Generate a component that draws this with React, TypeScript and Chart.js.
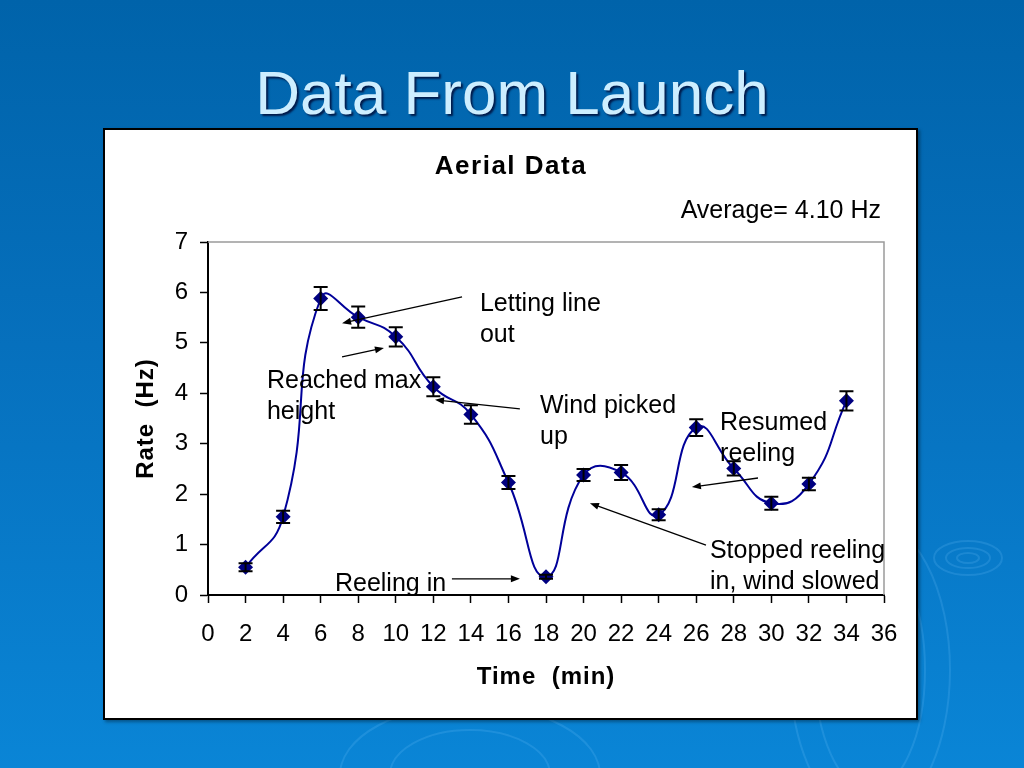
import React, { useEffect, useRef } from "react";
import { Chart, registerables } from "chart.js";

Chart.register(...registerables);

// ---- data ----
const TIME_MIN = [2, 4, 6, 8, 10, 12, 14, 16, 18, 20, 22, 24, 26, 28, 30, 32, 34];
const RATE_HZ = [0.55, 1.55, 5.88, 5.51, 5.12, 4.13, 3.58, 2.23, 0.36, 2.38, 2.43, 1.59, 3.32, 2.51, 1.82, 2.2, 3.85];
const RATE_ERR = [0.08, 0.12, 0.23, 0.21, 0.19, 0.19, 0.185, 0.13, 0.04, 0.12, 0.15, 0.11, 0.165, 0.14, 0.13, 0.125, 0.19];
const X_MIN = 0;
const X_MAX = 36;
const X_STEP = 2;
const Y_MIN = 0;
const Y_MAX = 7;
const Y_STEP = 1;

const SLIDE_TITLE = "Data From Launch";
const CHART_TITLE = "Aerial Data";
const AVERAGE_TEXT = "Average= 4.10 Hz";
const X_TITLE = "Time  (min)";
const Y_TITLE = "Rate  (Hz)";

// annotation texts: [lines, x, y] in data coordinates (left edge, middle of first line)
const NOTE_LINES = [
  ["Letting line", "out"],
  ["Reached max", "height"],
  ["Wind picked", "up"],
  ["Resumed", "reeling"],
  ["Stopped reeling", "in, wind slowed"],
  ["Reeling in"],
];
const NOTE_X = [14.48, 3.14, 17.68, 27.27, 26.73, 6.76];
const NOTE_Y = [5.76, 4.24, 3.75, 3.41, 0.87, 0.22];

// arrows: from (x1,y1) to (x2,y2) with head at (x2,y2), data coordinates
const ARROW_X1 = [13.53, 7.14, 16.61, 29.29, 26.52, 12.99];
const ARROW_Y1 = [5.91, 4.72, 3.69, 2.32, 0.99, 0.32];
const ARROW_X2 = [7.14, 9.37, 12.09, 25.77, 20.34, 16.61];
const ARROW_Y2 = [5.39, 4.9, 3.87, 2.14, 1.82, 0.32];

const FONT = "'Liberation Sans', Arial, Helvetica, sans-serif";

const decorPlugin = {
  id: "decor",
  afterDatasetsDraw(chart: any) {
    const { ctx, chartArea, scales } = chart;
    const xs = scales.x;
    const ys = scales.y;
    ctx.save();
    // top / right frame of plot area
    ctx.strokeStyle = "#9a9a9a";
    ctx.lineWidth = 1.5;
    ctx.beginPath();
    ctx.moveTo(chartArea.left, chartArea.top);
    ctx.lineTo(chartArea.right, chartArea.top);
    ctx.lineTo(chartArea.right, chartArea.bottom);
    ctx.stroke();

    // error bars
    ctx.strokeStyle = "#000000";
    ctx.lineWidth = 2;
    TIME_MIN.forEach((t, i) => {
      const px = xs.getPixelForValue(t);
      const top = ys.getPixelForValue(RATE_HZ[i] + RATE_ERR[i]);
      const bot = ys.getPixelForValue(RATE_HZ[i] - RATE_ERR[i]);
      ctx.beginPath();
      ctx.moveTo(px, top);
      ctx.lineTo(px, bot);
      ctx.moveTo(px - 7, top);
      ctx.lineTo(px + 7, top);
      ctx.moveTo(px - 7, bot);
      ctx.lineTo(px + 7, bot);
      ctx.stroke();
    });

    // arrows
    ctx.strokeStyle = "#000000";
    ctx.fillStyle = "#000000";
    ctx.lineWidth = 1.3;
    ARROW_X1.forEach((_, i) => {
      const x1 = xs.getPixelForValue(ARROW_X1[i]);
      const y1 = ys.getPixelForValue(ARROW_Y1[i]);
      const x2 = xs.getPixelForValue(ARROW_X2[i]);
      const y2 = ys.getPixelForValue(ARROW_Y2[i]);
      const ang = Math.atan2(y2 - y1, x2 - x1);
      const hl = 9;
      const hw = 3.5;
      ctx.beginPath();
      ctx.moveTo(x1, y1);
      ctx.lineTo(x2 - Math.cos(ang) * hl * 0.8, y2 - Math.sin(ang) * hl * 0.8);
      ctx.stroke();
      ctx.beginPath();
      ctx.moveTo(x2, y2);
      ctx.lineTo(x2 - Math.cos(ang) * hl - Math.sin(ang) * hw, y2 - Math.sin(ang) * hl + Math.cos(ang) * hw);
      ctx.lineTo(x2 - Math.cos(ang) * hl + Math.sin(ang) * hw, y2 - Math.sin(ang) * hl - Math.cos(ang) * hw);
      ctx.closePath();
      ctx.fill();
    });

    // annotation texts
    ctx.font = `25px ${FONT}`;
    ctx.textAlign = "left";
    ctx.textBaseline = "middle";
    ctx.fillStyle = "#000000";
    NOTE_LINES.forEach((lines, i) => {
      const x = xs.getPixelForValue(NOTE_X[i]);
      const y = ys.getPixelForValue(NOTE_Y[i]);
      lines.forEach((ln, j) => ctx.fillText(ln, x, y + j * 31));
    });

    // titles
    const cx = (chartArea.left + chartArea.right) / 2;
    const cy = (chartArea.top + chartArea.bottom) / 2;
    (ctx as any).letterSpacing = "1.5px";
    ctx.font = `bold 26px ${FONT}`;
    ctx.textAlign = "center";
    ctx.fillText(CHART_TITLE, cx - 35, chartArea.top - 75);

    (ctx as any).letterSpacing = "1px";
    ctx.font = `bold 24px ${FONT}`;
    ctx.fillText(X_TITLE, cx, chartArea.bottom + 82);

    ctx.save();
    ctx.translate(chartArea.left - 62, cy);
    ctx.rotate(-Math.PI / 2);
    ctx.fillText(Y_TITLE, 0, 0);
    ctx.restore();

    (ctx as any).letterSpacing = "0px";
    ctx.font = `25px ${FONT}`;
    ctx.textAlign = "right";
    ctx.fillText(AVERAGE_TEXT, chartArea.right - 3, chartArea.top - 31);
    ctx.restore();
  },
};

function ChartBox() {
  const ref = useRef<HTMLCanvasElement | null>(null);
  useEffect(() => {
    if (!ref.current) return;
    const chart = new Chart(ref.current, {
      type: "line",
      data: {
        datasets: [
          {
            label: "Rate",
            data: TIME_MIN.map((t, i) => ({ x: t, y: RATE_HZ[i] })),
            borderColor: "#000099",
            borderWidth: 2,
            backgroundColor: "#000080",
            pointStyle: "rectRot",
            pointRadius: 7.5,
            pointBorderWidth: 0,
            pointBackgroundColor: "#000080",
            tension: 0.5,
            fill: false,
          },
        ],
      },
      options: {
        animation: false,
        responsive: false,
        maintainAspectRatio: false,
        devicePixelRatio: 1,
        layout: { padding: { left: 0, top: 112, right: 32, bottom: 0 } },
        plugins: {
          legend: { display: false },
          title: { display: false },
          tooltip: { enabled: false },
        },
        scales: {
          x: {
            type: "linear",
            min: X_MIN,
            max: X_MAX,
            afterFit: (s: any) => {
              s.height = 123;
            },
            afterBuildTicks: (s: any) => {
              const t = [];
              for (let v = X_MIN; v <= X_MAX; v += X_STEP) t.push({ value: v });
              s.ticks = t;
            },
            ticks: {
              color: "#000000",
              font: { family: FONT, size: 24 },
              padding: 17,
              maxRotation: 0,
              autoSkip: false,
            },
            grid: {
              display: true,
              drawOnChartArea: false,
              drawTicks: true,
              tickLength: 8,
              tickColor: "#000000",
              tickWidth: 1.5,
            },
            border: { display: true, color: "#000000", width: 2 },
          },
          y: {
            type: "linear",
            min: Y_MIN,
            max: Y_MAX,
            afterFit: (s: any) => {
              s.width = 103;
            },
            ticks: {
              stepSize: Y_STEP,
              color: "#000000",
              font: { family: FONT, size: 24 },
              padding: 12,
            },
            grid: {
              display: true,
              drawOnChartArea: false,
              drawTicks: true,
              tickLength: 8,
              tickColor: "#000000",
              tickWidth: 1.5,
            },
            border: { display: true, color: "#000000", width: 2 },
          },
        },
      },
      plugins: [decorPlugin],
    });
    return () => chart.destroy();
  }, []);
  return <canvas ref={ref} width={811} height={588} style={{ display: "block", width: 811, height: 588 }} />;
}

export default function App() {
  useEffect(() => {
    document.body.style.margin = "0";
  }, []);
  return (
    <div
      style={{
        position: "relative",
        width: 1024,
        height: 768,
        overflow: "hidden",
        background: "linear-gradient(180deg, #0063aa 0%, #0670bd 45%, #0a85d6 100%)",
        fontFamily: FONT,
      }}
    >
      <svg width={1024} height={768} style={{ position: "absolute", left: 0, top: 0 }}>
        <g fill="none" stroke="rgba(120,200,255,0.18)" strokeWidth={2}>
          <ellipse cx={968} cy={558} rx={34} ry={17} />
          <ellipse cx={968} cy={558} rx={22} ry={10} />
          <ellipse cx={968} cy={558} rx={11} ry={5} />
          <ellipse cx={870} cy={670} rx={55} ry={120} />
          <ellipse cx={870} cy={670} rx={80} ry={150} />
          <ellipse cx={470} cy={775} rx={80} ry={45} />
          <ellipse cx={470} cy={775} rx={130} ry={70} />
        </g>
      </svg>
      <div
        style={{
          position: "absolute",
          left: 0,
          width: 1024,
          top: 58,
          textAlign: "center",
          color: "#cdeeff",
          fontSize: 62,
          lineHeight: "70px",
          fontFamily: FONT,
          textShadow: "2px 2px 2px rgba(0,0,40,0.75)",
        }}
      >
        {SLIDE_TITLE}
      </div>
      <div
        style={{
          position: "absolute",
          left: 103,
          top: 128,
          width: 811,
          height: 588,
          background: "#ffffff",
          border: "2px solid #000000",
          boxShadow: "2px 2px 3px rgba(0,0,0,0.35)",
        }}
      >
        <ChartBox />
      </div>
    </div>
  );
}
